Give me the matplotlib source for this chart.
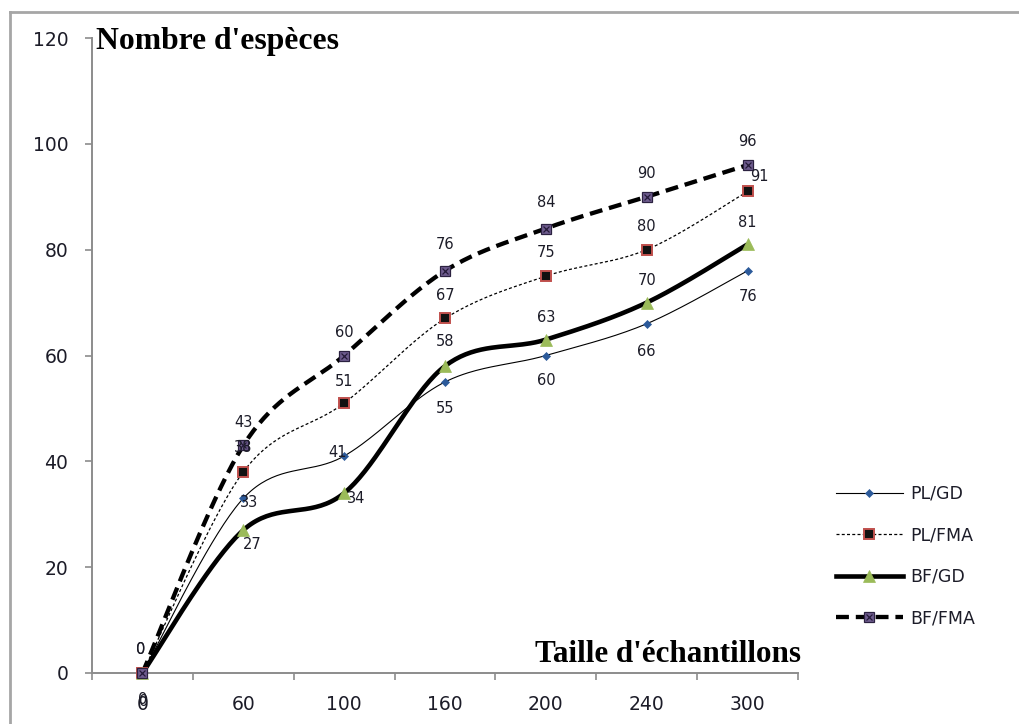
import numpy as np
import matplotlib
matplotlib.use("Agg")
import matplotlib.pyplot as plt
from matplotlib.lines import Line2D

# Sample sizes (categorical axis) and species counts per method
categories = ["0", "60", "100", "160", "200", "240", "300"]
pl_gd = [0, 33, 41, 55, 60, 66, 76]
pl_fma = [0, 38, 51, 67, 75, 80, 91]
bf_gd = [0, 27, 34, 58, 63, 70, 81]
bf_fma = [0, 43, 60, 76, 84, 90, 96]
series_names = ["PL/GD", "PL/FMA", "BF/GD", "BF/FMA"]
y_ticks = [0, 20, 40, 60, 80, 100, 120]

W, H, DPI = 1019, 724, 100
fig = plt.figure(figsize=(W / DPI, H / DPI), dpi=DPI)
PX = 72.0 / DPI  # points per pixel

# chart-area border (grey frame along the top and left)
border_kw = dict(color="#a6a6a6", lw=2.0, transform=fig.transFigure)
fig.add_artist(Line2D([10 / W, 10 / W], [1 - 12 / H, 0], **border_kw))
fig.add_artist(Line2D([10 / W, 1], [1 - 12 / H, 1 - 12 / H], **border_kw))

ax = fig.add_axes([92 / W, 1 - 673 / H, (798 - 92) / W, (673 - 38) / H])
ax.set_xlim(-0.5, len(categories) - 0.5)
ax.set_ylim(0, 120)

for s in ("top", "right"):
    ax.spines[s].set_visible(False)
for s in ("left", "bottom"):
    ax.spines[s].set_color("#8c8c8c")
    ax.spines[s].set_linewidth(1.4)

text_color = "#1c1c28"
ax.set_yticks(y_ticks)
ax.set_yticklabels([str(v) for v in y_ticks])
ax.tick_params(axis="y", direction="out", length=5, width=1.2,
               color="#8c8c8c", labelsize=13.5, labelcolor=text_color, pad=12)
x = np.arange(len(categories))
ax.set_xticks(x)
ax.set_xticklabels(categories)
ax.set_xticks(np.arange(len(categories) + 1) - 0.5, minor=True)
ax.tick_params(axis="x", which="major", length=0, labelsize=13.5,
               labelcolor=text_color, pad=16)
ax.tick_params(axis="x", which="minor", direction="out", length=5,
               width=1.2, color="#8c8c8c")
for lab in ax.get_xticklabels() + ax.get_yticklabels():
    lab.set_family("DejaVu Sans")


def smooth(xs, ys, n=40):
    """Catmull-Rom style Bezier smoothing through the data points."""
    pts = np.column_stack([xs, ys]).astype(float)
    ext = np.vstack([pts[0], pts, pts[-1]])
    out = []
    t = np.linspace(0, 1, n)[:, None]
    for i in range(len(pts) - 1):
        p0, p3 = ext[i + 1], ext[i + 2]
        c1 = p0 + (ext[i + 2] - ext[i]) / 6.0
        c2 = p3 - (ext[i + 3] - ext[i + 1]) / 6.0
        seg = ((1 - t) ** 3) * p0 + 3 * ((1 - t) ** 2) * t * c1 \
            + 3 * (1 - t) * t ** 2 * c2 + t ** 3 * p3
        out.append(seg if i == 0 else seg[1:])
    arr = np.vstack(out)
    return arr[:, 0], arr[:, 1]


series = [pl_gd, pl_fma, bf_gd, bf_fma]
line_styles = [
    dict(lw=0.8, ls="-"),
    dict(lw=0.9, ls=(0, (2.4, 1.8))),
    dict(lw=3.3, ls="-"),
    dict(lw=3.1, ls=(0, (3.0, 1.6))),
]
marker_styles = [
    dict(marker="D", ms=4, mfc="#2c5a9a", mec="#2c5a9a", mew=0.5),
    dict(marker="s", ms=6.5, mfc="#111111", mec="#c0504d", mew=1.4),
    dict(marker="^", ms=8, mfc="#9bbb59", mec="#9bbb59", mew=0.5),
    dict(marker="s", ms=6.5, mfc="#6e5c8e", mec="#2b2140", mew=0.9),
]

handles = []
for vals, name, lst, mst in zip(series, series_names, line_styles, marker_styles):
    sx, sy = smooth(x, vals)
    ax.plot(sx, sy, color="black", solid_capstyle="butt",
            dash_capstyle="butt", clip_on=False, **lst)
    ax.plot(x, vals, ls="none", clip_on=False, zorder=4, **mst)
    h = Line2D([], [], color="black", **lst, **mst)
    if name == "BF/FMA":
        ax.plot(x, vals, ls="none", marker="x", ms=5, mec="#241a38",
                mew=0.9, clip_on=False, zorder=5)
        hx = Line2D([], [], ls="none", marker="x", ms=5, mec="#241a38", mew=0.9)
        handles.append((h, hx))
    else:
        handles.append(h)

# value label offsets in pixels (dx, dy), one list per series
label_offsets = [
    [(0, -26), (6, -4), (-7, 4), (0, -27), (0, -25), (0, -28), (0, -26)],
    [(-2, 23), (0, 24), (0, 22), (0, 23), (0, 24), (0, 23), (12, 15)],
    [(1, -29), (9, -14), (12, -5), (0, 25), (0, 22), (0, 22), (0, 22)],
    [(-2, 23), (0, 23), (0, 23), (0, 26), (0, 26), (0, 23), (0, 24)],
]
for vals, offs in zip(series, label_offsets):
    for xi, v, (dx, dy) in zip(x, vals, offs):
        ax.annotate(str(v), (xi, v), xytext=(dx * PX, dy * PX),
                    textcoords="offset points", ha="center", va="center",
                    fontsize=10.5, color=text_color, family="DejaVu Sans",
                    zorder=6, annotation_clip=False)

# axis titles placed inside the plot area
fig.text(96 / W, 1 - 41 / H, "Nombre d'espèces", ha="left", va="center",
         family="Liberation Serif", weight="bold", fontsize=22.8, color="black")
fig.text(801 / W, 1 - 655 / H, "Taille d'échantillons", ha="right",
         va="center", family="Liberation Serif", weight="bold", fontsize=22.4,
         color="black")

leg = fig.legend(handles, series_names, loc="upper left",
                 bbox_to_anchor=(836 / W, 1 - 485 / H), frameon=False,
                 borderpad=0, borderaxespad=0, handlelength=3.85,
                 handletextpad=0.4, labelspacing=1.35, numpoints=1,
                 prop={"family": "DejaVu Sans", "size": 12.5})
for t in leg.get_texts():
    t.set_color(text_color)

fig.savefig("out.png", dpi=DPI)
